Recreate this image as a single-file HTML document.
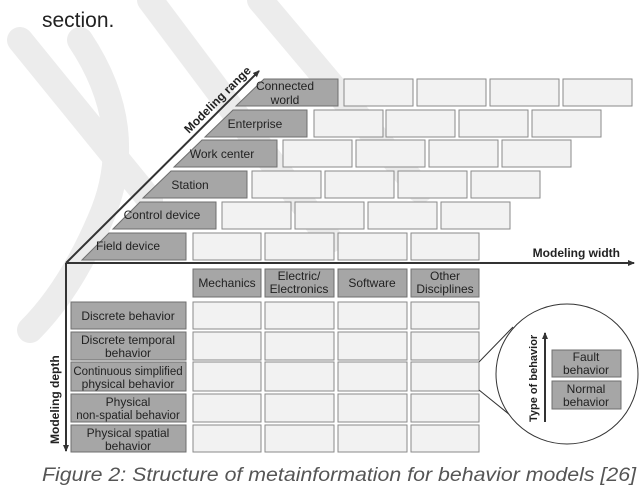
<!DOCTYPE html>
<html><head><meta charset="utf-8"><style>
html,body{margin:0;padding:0;background:#fff;}
svg{display:block;font-family:"Liberation Sans",Calibri,sans-serif;}
</style></head><body>
<svg width="640" height="488" viewBox="0 0 640 488" xmlns="http://www.w3.org/2000/svg">
<defs>
<marker id="ar" markerWidth="8" markerHeight="8" refX="6" refY="4" orient="auto" markerUnits="userSpaceOnUse"><path d="M0,1 L7,4 L0,7 Z" fill="#333"/></marker>
</defs>
<g stroke="#ececec" stroke-width="26" fill="none" stroke-linecap="round">
<path d="M20,40 L150,200"/>
<path d="M80,40 Q140,130 100,220 Q70,290 30,330"/>
<path d="M150,0 L330,240"/>
<path d="M260,0 L420,190"/>
</g>
<text x="42" y="27" font-size="21" fill="#222">section.</text>

<g fill="#a6a6a6" stroke="#6f6f6f" stroke-width="1">
<polygon points="236,106 264,79 338,79 338,106"/>
<polygon points="205,137 233,110 307,110 307,137"/>
<polygon points="174,167 202,140 277,140 277,167"/>
<polygon points="143,198 171,171 247,171 247,198"/>
<polygon points="113,229 140,202 216,202 216,229"/>
<polygon points="82,260 109,233 186,233 186,260"/>
</g>
<g font-size="12" fill="#222" text-anchor="middle">
<text x="285" y="90">Connected</text><text x="285" y="104">world</text>
<text x="255" y="128">Enterprise</text>
<text x="222" y="158">Work center</text>
<text x="190" y="189">Station</text>
<text x="162" y="219">Control device</text>
<text x="128" y="250">Field device</text>
</g>
<g fill="#f2f2f2" stroke="#8a8a8a" stroke-width="1">
<rect x="344" y="79" width="69" height="27"/><rect x="417" y="79" width="69" height="27"/><rect x="490" y="79" width="69" height="27"/><rect x="563" y="79" width="69" height="27"/>
<rect x="314" y="110" width="69" height="27"/><rect x="386" y="110" width="69" height="27"/><rect x="459" y="110" width="69" height="27"/><rect x="532" y="110" width="69" height="27"/>
<rect x="283" y="140" width="69" height="27"/><rect x="356" y="140" width="69" height="27"/><rect x="429" y="140" width="69" height="27"/><rect x="502" y="140" width="69" height="27"/>
<rect x="252" y="171" width="69" height="27"/><rect x="325" y="171" width="69" height="27"/><rect x="398" y="171" width="69" height="27"/><rect x="471" y="171" width="69" height="27"/>
<rect x="222" y="202" width="69" height="27"/><rect x="295" y="202" width="69" height="27"/><rect x="368" y="202" width="69" height="27"/><rect x="441" y="202" width="69" height="27"/>
<rect x="193" y="233" width="68" height="27"/><rect x="265" y="233" width="69" height="27"/><rect x="338" y="233" width="69" height="27"/><rect x="411" y="233" width="68" height="27"/>
</g>

<g stroke="#333" stroke-width="2" fill="none">
<line x1="66" y1="263" x2="259" y2="71" marker-end="url(#ar)"/>
<line x1="66" y1="263" x2="634" y2="263" marker-end="url(#ar)"/>
<line x1="66" y1="263" x2="66" y2="451" marker-end="url(#ar)"/>
</g>
<text transform="translate(189,134) rotate(-45)" font-size="12" font-weight="bold" fill="#222">Modeling range</text>
<text x="620" y="257" font-size="12" font-weight="bold" fill="#222" text-anchor="end">Modeling width</text>
<text transform="translate(59,444) rotate(-90)" font-size="12" font-weight="bold" fill="#222">Modeling depth</text>

<g fill="#a6a6a6" stroke="#6f6f6f">
<rect x="193" y="269" width="68" height="28"/><rect x="265" y="269" width="69" height="28"/><rect x="338" y="269" width="69" height="28"/><rect x="411" y="269" width="68" height="28"/>
<rect x="71" y="302" width="115" height="27"/><rect x="71" y="332" width="115" height="28"/><rect x="71" y="362" width="115" height="29"/><rect x="71" y="394" width="115" height="28"/><rect x="71" y="425" width="115" height="27"/>
</g>
<g font-size="12" fill="#222" text-anchor="middle">
<text x="227" y="287">Mechanics</text>
<text x="299" y="280">Electric/</text><text x="299" y="293">Electronics</text>
<text x="372" y="287">Software</text>
<text x="445" y="280">Other</text><text x="445" y="293">Disciplines</text>
<text x="128" y="320">Discrete behavior</text>
<text x="128" y="344">Discrete temporal</text><text x="128" y="357">behavior</text>
<text x="128" y="375" font-size="11.5">Continuous simplified</text><text x="128" y="388">physical behavior</text>
<text x="128" y="406">Physical</text><text x="128" y="419" font-size="11.5">non-spatial behavior</text>
<text x="128" y="437">Physical spatial</text><text x="128" y="450">behavior</text>
</g>
<g fill="#f2f2f2" stroke="#8a8a8a">
<rect x="193" y="302" width="68" height="27"/><rect x="265" y="302" width="69" height="27"/><rect x="338" y="302" width="69" height="27"/><rect x="411" y="302" width="68" height="27"/>
<rect x="193" y="332" width="68" height="28"/><rect x="265" y="332" width="69" height="28"/><rect x="338" y="332" width="69" height="28"/><rect x="411" y="332" width="68" height="28"/>
<rect x="193" y="362" width="68" height="29"/><rect x="265" y="362" width="69" height="29"/><rect x="338" y="362" width="69" height="29"/><rect x="411" y="362" width="68" height="29"/>
<rect x="193" y="394" width="68" height="28"/><rect x="265" y="394" width="69" height="28"/><rect x="338" y="394" width="69" height="28"/><rect x="411" y="394" width="68" height="28"/>
<rect x="193" y="425" width="68" height="27"/><rect x="265" y="425" width="69" height="27"/><rect x="338" y="425" width="69" height="27"/><rect x="411" y="425" width="68" height="27"/>
</g>

<g stroke="#333" stroke-width="1" fill="none">
<line x1="479" y1="362" x2="513" y2="327"/>
<line x1="479" y1="390" x2="510" y2="415"/>
<ellipse cx="567" cy="374" rx="71" ry="70" fill="#fff"/>
</g>
<line x1="545" y1="422" x2="545" y2="333" stroke="#333" stroke-width="2" marker-end="url(#ar)"/>
<text transform="translate(537,422) rotate(-90)" font-size="11" font-weight="bold" fill="#222">Type of  behavior</text>
<g fill="#a6a6a6" stroke="#6f6f6f">
<rect x="552" y="350" width="69" height="27"/><rect x="552" y="381" width="69" height="28"/>
</g>
<g font-size="12" fill="#222" text-anchor="middle">
<text x="586" y="361">Fault</text><text x="586" y="374">behavior</text>
<text x="586" y="393">Normal</text><text x="586" y="406">behavior</text>
</g>

<text x="42" y="481" font-size="19" font-style="italic" fill="#555" textLength="594" lengthAdjust="spacingAndGlyphs">Figure 2: Structure of metainformation for behavior models [26]</text>
</svg>
</body></html>
